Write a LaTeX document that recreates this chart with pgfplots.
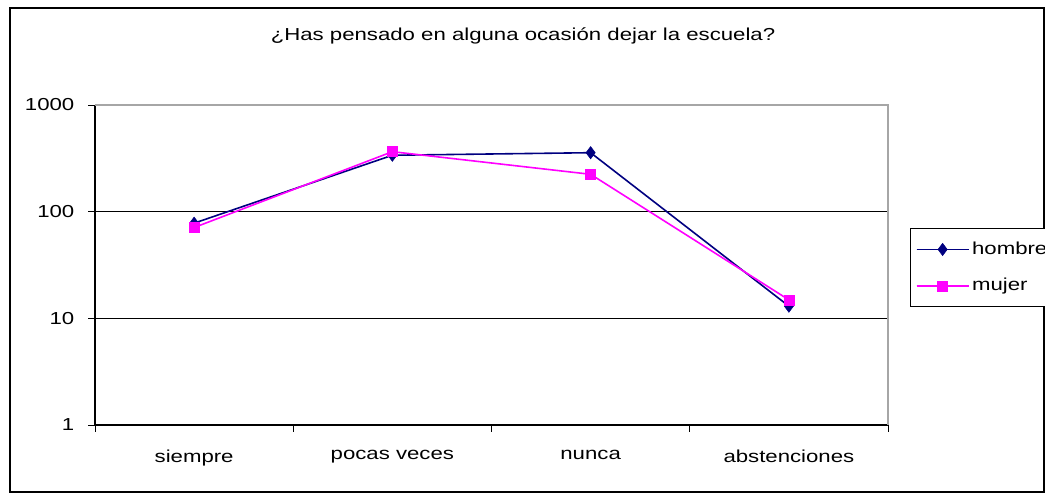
\documentclass[border=0pt]{standalone}
\usepackage{pgfplots}
\pgfplotsset{compat=1.18}
\usepackage{fontspec}
\setmainfont{Liberation Sans}[FakeStretch=1.28]
\definecolor{navyc}{HTML}{000080}
\definecolor{magc}{HTML}{FF00FF}
\begin{document}
\fontsize{13}{15}\selectfont
\begin{tikzpicture}[x=0.75pt,y=0.75pt]
% px -> coordinates: x = px-95, y = 425-py (units of 0.75pt)
\path[use as bounding box] (-95,-70) rectangle (950,425);
\draw[black, line width=0.8pt] (-85,-67) rectangle (949,417);
\node[font=\fontsize{13}{15}\selectfont] at (428,389) {¿Has pensado en alguna ocasión dejar la escuela?};
\begin{axis}[
  at={(0,0)}, anchor=south west,
  scale only axis,
  width=594.75pt, height=240pt,
  ymode=log, ymin=1, ymax=1000,
  xmin=0, xmax=4,
  /pgf/number format/assume math mode=true,
  axis x line*=bottom, axis y line*=left,
  x axis line style={draw=black, line width=0.8pt},
  y axis line style={draw=black, line width=0.8pt},
  ytick={1,10,100,1000},
  yticklabels={1,10,100,1000},
  yminorticks=false,
  ymajorgrids, major grid style={black, line width=0.6pt},
  xtick={0,1,2,3,4}, xticklabels={},
  extra x ticks={0.5,1.5,2.5,3.5},
  extra x tick labels={siempre,pocas veces,nunca,abstenciones},
  extra x tick style={major tick length=0pt, grid=none, xticklabel style={yshift=-14pt}},
  tick align=outside, major tick length=5pt,
  tick style={black, line width=0.6pt},
  ticklabel style={font=\fontsize{13}{15}\selectfont},
  yticklabel style={xshift=-6pt},
  legend style={at={(1.0277,0.6156)}, anchor=north west, draw=black, line width=0.8pt,
    font=\fontsize{13}{15}\selectfont, row sep=12pt, inner xsep=4pt, inner ysep=8pt},
  legend cell align=left,
  legend image code/.code={\draw[#1, line width=1.2pt] (0pt,0pt) -- (39pt,0pt); \draw[#1, mark repeat=2, mark phase=2] plot coordinates {(0pt,0pt) (19.5pt,0pt) (39pt,0pt)};},
  clip=false,
]
\draw[gray!70, line width=0.8pt] (axis cs:0,1000) -- (axis cs:4,1000) -- (axis cs:4,1);
\addplot[navyc, line width=1.2pt, mark=diamond*, mark size=4.6pt, mark options={solid, fill=navyc, draw=navyc, line width=0.4pt}]
  coordinates {(0.5,78) (1.5,338) (2.5,357) (3.5,13)};
\addplot[magc, line width=1.2pt, mark=square*, mark size=3.8pt, mark options={solid, fill=magc, draw=magc, line width=0.4pt}]
  coordinates {(0.5,71) (1.5,365) (2.5,224) (3.5,14.9)};
\legend{hombre\hspace{20pt},mujer}
\end{axis}
\end{tikzpicture}
\end{document}
